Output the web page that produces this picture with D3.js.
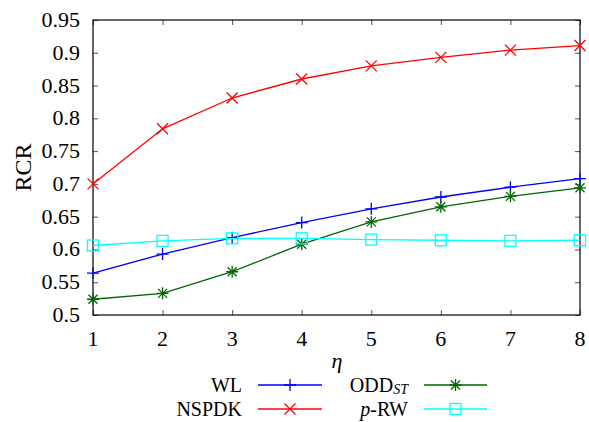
<!DOCTYPE html>
<html>
<head>
<meta charset="utf-8">
<script src="https://cdn.jsdelivr.net/npm/d3@7"></script>
<style>
  body { margin: 0; background: #fff; }
</style>
</head>
<body>
<svg id="chart" width="589" height="422"></svg>
<script>
// data
const etas = [1, 2, 3, 4, 5, 6, 7, 8];
const wl = [0.564, 0.593, 0.618, 0.641, 0.662, 0.680, 0.695, 0.708];
const nspdk = [0.700, 0.784, 0.831, 0.860, 0.880, 0.893, 0.904, 0.911];
const odd = [0.524, 0.533, 0.566, 0.608, 0.642, 0.665, 0.681, 0.694];
const prw = [0.606, 0.613, 0.617, 0.617, 0.615, 0.614, 0.613, 0.614];
const yTicks = [0.5, 0.55, 0.6, 0.65, 0.7, 0.75, 0.8, 0.85, 0.9, 0.95];

const FONT = "Liberation Serif";
const svg = d3.select("#chart");
const margin = { left: 93, right: 9, top: 20, bottom: 107 };
const W = 589, H = 422;

const x = d3.scaleLinear().domain([1, 8]).range([margin.left, W - margin.right]);
const y = d3.scaleLinear().domain([0.5, 0.95]).range([H - margin.bottom, margin.top]);

// axes, ticks pointing inward on all four sides
const tickLen = 5;
svg.append("g")
    .attr("transform", `translate(0,${y(0.5)})`)
    .call(d3.axisBottom(x).tickValues(etas).tickSize(-tickLen).tickFormat(""));
svg.append("g")
    .attr("transform", `translate(0,${y(0.95)})`)
    .call(d3.axisTop(x).tickValues(etas).tickSize(-tickLen).tickFormat(""));
svg.append("g")
    .attr("transform", `translate(${x(1)},0)`)
    .call(d3.axisLeft(y).tickValues(yTicks).tickSize(-tickLen).tickFormat(""));
svg.append("g")
    .attr("transform", `translate(${x(8)},0)`)
    .call(d3.axisRight(y).tickValues(yTicks).tickSize(-tickLen).tickFormat(""));
svg.selectAll(".domain").remove();
svg.selectAll(".tick line").attr("stroke", "#555").attr("stroke-width", 1);

svg.append("rect")
    .attr("x", x(1)).attr("y", y(0.95))
    .attr("width", x(8) - x(1)).attr("height", y(0.5) - y(0.95))
    .attr("fill", "none").attr("stroke", "#000").attr("stroke-width", 1.2);

// tick labels
svg.append("g").selectAll("text")
    .data(yTicks).join("text")
    .attr("font-family", FONT)
    .attr("x", x(1) - 13).attr("y", d => y(d) + 7)
    .attr("text-anchor", "end")
    .attr("font-size", 22)
    .text(d => String(d));

svg.append("g").selectAll("text")
    .data(etas).join("text")
    .attr("font-family", FONT)
    .attr("x", d => x(d)).attr("y", y(0.5) + 31)
    .attr("text-anchor", "middle")
    .attr("font-size", 22)
    .text(d => d);

// axis titles
svg.append("text")
    .attr("font-family", FONT)
    .attr("x", 337).attr("y", 368)
    .attr("text-anchor", "middle")
    .attr("font-size", 22).attr("font-style", "italic")
    .text("η");

svg.append("text")
    .attr("font-family", FONT)
    .attr("transform", `translate(31,${(y(0.5) + y(0.95)) / 2}) rotate(-90)`)
    .attr("text-anchor", "middle")
    .attr("font-size", 24)
    .text("RCR");

// marker shapes
function marker(g, type, color, cx, cy) {
  const s = 6;
  if (type === "plus" || type === "star") {
    g.append("path").attr("d", `M${cx - s},${cy}H${cx + s}M${cx},${cy - s}V${cy + s}`)
      .attr("stroke", color).attr("stroke-width", 1.3).attr("fill", "none");
  }
  if (type === "cross" || type === "star") {
    const c = type === "star" ? 4.5 : 5.5;
    g.append("path").attr("d", `M${cx - c},${cy - c}L${cx + c},${cy + c}M${cx - c},${cy + c}L${cx + c},${cy - c}`)
      .attr("stroke", color).attr("stroke-width", 1.3).attr("fill", "none");
  }
  if (type === "square") {
    g.append("rect").attr("x", cx - 5.5).attr("y", cy - 5.5).attr("width", 11).attr("height", 11)
      .attr("stroke", color).attr("stroke-width", 1.3).attr("fill", "none");
  }
}

const series = [
  { name: "WL", values: wl, color: "#0000ff", type: "plus" },
  { name: "NSPDK", values: nspdk, color: "#ff0000", type: "cross" },
  { name: "ODD", values: odd, color: "#006400", type: "star" },
  { name: "p-RW", values: prw, color: "#00ffff", type: "square" }
];

const line = d3.line().x((d, i) => x(etas[i])).y(d => y(d));

series.forEach(s => {
  const g = svg.append("g");
  g.append("path").datum(s.values)
    .attr("d", line)
    .attr("fill", "none").attr("stroke", s.color).attr("stroke-width", 1.3);
  s.values.forEach((v, i) => marker(g, s.type, s.color, x(etas[i]), y(v)));
});

// legend
const legendPos = [
  { tx: 242, ly: 385, x0: 258, x1: 322 },
  { tx: 242, ly: 409, x0: 258, x1: 322 },
  { tx: 408, ly: 385, x0: 424, x1: 487 },
  { tx: 408, ly: 409, x0: 424, x1: 487 }
];
const leg = svg.append("g");
series.forEach((s, i) => {
  const p = legendPos[i];
  const t = leg.append("text")
    .attr("font-family", FONT)
    .attr("x", p.tx).attr("y", p.ly + 7)
    .attr("text-anchor", "end")
    .attr("font-size", 20);
  if (s.name === "ODD") {
    t.append("tspan").text("ODD");
    t.append("tspan").attr("font-size", 14).attr("font-style", "italic").attr("dy", 2).text("ST");
  } else if (s.name === "p-RW") {
    t.append("tspan").attr("font-style", "italic").text("p");
    t.append("tspan").text("-RW");
  } else {
    t.text(s.name);
  }
  leg.append("line")
    .attr("x1", p.x0).attr("x2", p.x1).attr("y1", p.ly).attr("y2", p.ly)
    .attr("stroke", s.color).attr("stroke-width", 1.3);
  marker(leg, s.type, s.color, (p.x0 + p.x1) / 2, p.ly);
});
</script>
</body>
</html>
